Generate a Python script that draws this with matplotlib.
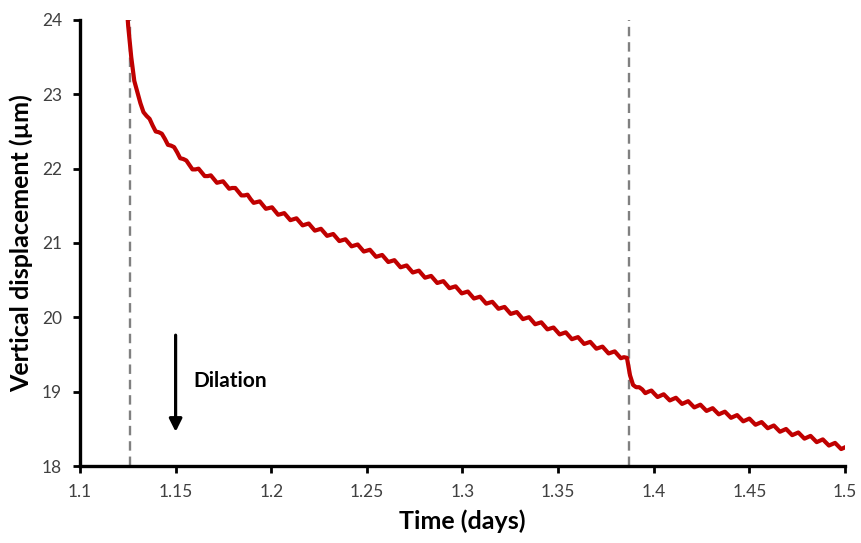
import numpy as np
import matplotlib
matplotlib.use("Agg")
import matplotlib.pyplot as plt

# Vertical displacement (µm), sampled every 0.0016 days starting at t0
t0 = 1.1236
dt = 0.0016
disp = [
    24.50, 23.92, 23.50, 23.18, 23.03, 22.88, 22.76, 22.71, 22.67, 22.58,
    22.50, 22.49, 22.47, 22.40, 22.32, 22.31, 22.29, 22.22, 22.14, 22.13,
    22.11, 22.05, 21.99, 21.99, 22.00, 21.95, 21.90, 21.90, 21.91, 21.86,
    21.81, 21.82, 21.83, 21.78, 21.73, 21.74, 21.74, 21.69, 21.64, 21.64,
    21.65, 21.59, 21.54, 21.55, 21.56, 21.51, 21.46, 21.47, 21.48, 21.43,
    21.38, 21.39, 21.402, 21.355, 21.307, 21.320, 21.332, 21.284, 21.237, 21.249,
    21.262, 21.214, 21.166, 21.179, 21.191, 21.144, 21.096, 21.108, 21.121, 21.073,
    21.026, 21.038, 21.050, 21.003, 20.955, 20.968, 20.980, 20.932, 20.885, 20.897,
    20.909, 20.862, 20.814, 20.827, 20.839, 20.791, 20.744, 20.756, 20.769, 20.721,
    20.673, 20.686, 20.698, 20.651, 20.603, 20.615, 20.628, 20.580, 20.533, 20.545,
    20.557, 20.510, 20.462, 20.475, 20.487, 20.439, 20.392, 20.404, 20.417, 20.369,
    20.322, 20.335, 20.347, 20.300, 20.253, 20.266, 20.278, 20.231, 20.184, 20.196,
    20.209, 20.162, 20.115, 20.127, 20.140, 20.093, 20.046, 20.058, 20.071, 20.024,
    19.976, 19.989, 20.002, 19.955, 19.907, 19.920, 19.933, 19.885, 19.838, 19.851,
    19.863, 19.816, 19.770, 19.784, 19.798, 19.752, 19.706, 19.720, 19.734, 19.688,
    19.642, 19.656, 19.670, 19.624, 19.578, 19.592, 19.606, 19.560, 19.514, 19.528,
    19.542, 19.496, 19.450, 19.464, 19.455, 19.220, 19.090, 19.060, 19.060, 19.030,
    18.980, 19.000, 19.015, 18.970, 18.928, 18.947, 18.965, 18.923, 18.882, 18.900,
    18.918, 18.877, 18.835, 18.853, 18.872, 18.830, 18.788, 18.806, 18.825, 18.783,
    18.741, 18.760, 18.778, 18.736, 18.695, 18.713, 18.731, 18.690, 18.648, 18.666,
    18.685, 18.643, 18.601, 18.620, 18.638, 18.596, 18.555, 18.573, 18.591, 18.550,
    18.508, 18.526, 18.545, 18.503, 18.461, 18.480, 18.498, 18.456, 18.415, 18.433,
    18.451, 18.410, 18.368, 18.386, 18.405, 18.363, 18.321, 18.340, 18.358, 18.316,
    18.275, 18.293, 18.311, 18.270, 18.228, 18.246, 18.265,
]
time = np.round(t0 + dt * np.arange(len(disp)), 4)

event_times = [1.1262, 1.3872]
x_ticks = [1.1, 1.15, 1.2, 1.25, 1.3, 1.35, 1.4, 1.45, 1.5]
x_tick_labels = ["1.1", "1.15", "1.2", "1.25", "1.3", "1.35", "1.4", "1.45", "1.5"]
y_ticks = [18, 19, 20, 21, 22, 23, 24]
arrow_x = 1.15
arrow_top, arrow_bottom = 19.76, 18.46

plt.rcParams['font.family'] = ['Lato', 'DejaVu Sans']

fig = plt.figure(figsize=(8.61, 5.43), dpi=100)
ax = fig.add_axes([0.0929, 0.1418, 0.9814 - 0.0929, 0.9632 - 0.1418])

for et in event_times:
    ax.axvline(et, color='#808080', lw=1.7, ls=(0, (4, 2.5)), zorder=1)

ax.plot(time, disp, color='#C00000', lw=3.0, solid_joinstyle='round', zorder=3)

ax.annotate('', xy=(arrow_x, arrow_bottom), xytext=(arrow_x, arrow_top),
            arrowprops=dict(arrowstyle='-|>', color='black', lw=2.3,
                            mutation_scale=19, shrinkA=0, shrinkB=0))
ax.text(1.1595, 19.15, 'Dilation', fontsize=15, fontweight='bold',
        ha='left', va='center', color='black')

ax.set_xlim(1.1, 1.5)
ax.set_ylim(18, 24)
ax.set_xticks(x_ticks)
ax.set_xticklabels(x_tick_labels)
ax.set_yticks(y_ticks)

for s in ['top', 'right']:
    ax.spines[s].set_visible(False)
for s in ['left', 'bottom']:
    ax.spines[s].set_linewidth(2.4)
    ax.spines[s].set_color('black')

ax.tick_params(axis='both', direction='out', length=5, width=2.0,
               labelsize=12.5, labelcolor='#404040', color='black', pad=8)

ax.set_xlabel('Time (days)', fontsize=18, fontweight='bold', labelpad=7)
ax.set_ylabel('Vertical displacement (µm)', fontsize=18, fontweight='bold', labelpad=6)

fig.savefig('out.png', dpi=100)
